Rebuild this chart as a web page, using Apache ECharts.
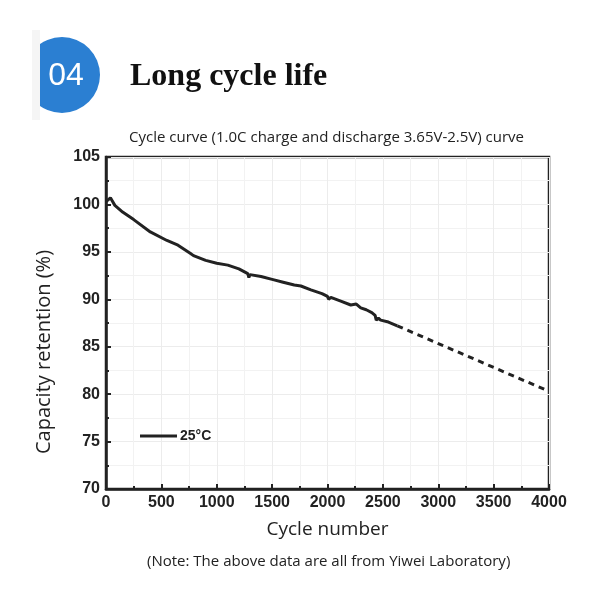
<!DOCTYPE html>
<html>
<head>
<meta charset="utf-8">
<script src="https://cdn.jsdelivr.net/npm/echarts@6/dist/echarts.min.js"></script>
<style>
  html, body { margin: 0; padding: 0; background: #fff; }
  #main { width: 600px; height: 600px; }
</style>
</head>
<body>
<div id="main"></div>
<script>
var cycles = [0, 40, 80, 150, 250, 400, 550, 650, 760, 790, 800, 900, 1000, 1100, 1200, 1280, 1290, 1300, 1400, 1500, 1600, 1700, 1760, 1850, 1950, 2000, 2010, 2030, 2120, 2210, 2260, 2300, 2350, 2400, 2430, 2440, 2460, 2480, 2550, 2630];
var retention = [100.3, 100.7, 99.9, 99.2, 98.4, 97.1, 96.2, 95.7, 94.85, 94.6, 94.7, 94.1, 93.8, 93.6, 93.2, 92.7, 92.3, 92.6, 92.4, 92.1, 91.8, 91.5, 91.4, 91.0, 90.6, 90.3, 90.0, 90.2, 89.8, 89.4, 89.5, 89.1, 88.9, 88.6, 88.3, 87.8, 88.0, 87.8, 87.6, 87.2];
// projected (dashed) part
var projCycles = [2630, 3980];
var projRetention = [87.2, 80.4];

var xTicks = { min: 0, max: 4000, interval: 500 };
var yTicks = { min: 70, max: 105, interval: 5 };

var chartDom = document.getElementById('main');
var myChart = echarts.init(chartDom);
var option;

var axisFont = { color: '#222', fontSize: 16, fontWeight: 'bold', fontFamily: 'Liberation Sans' };
var nameFont = { color: '#222', fontSize: 19, fontFamily: 'Open Sans' };

option = {
  backgroundColor: '#fff',
  animation: false,
  title: [
    {
      text: 'Long cycle life',
      left: 130, top: 61, padding: 0,
      textStyle: { fontFamily: 'Liberation Serif', fontWeight: 'bold', fontSize: 32, color: '#111' }
    },
    {
      text: 'Cycle curve (1.0C charge and discharge 3.65V-2.5V) curve',
      left: 129, top: 130, padding: 0,
      textStyle: { fontFamily: 'Open Sans', fontWeight: 'normal', fontSize: 15, color: '#222' }
    },
    {
      text: '(Note: The above data are all from Yiwei Laboratory)',
      left: 147, top: 554, padding: 0,
      textStyle: { fontFamily: 'Open Sans', fontWeight: 'normal', fontSize: 15, color: '#222' }
    }
  ],
  graphic: [
    { type: 'rect', shape: { x: 32, y: 30, width: 8, height: 90 }, style: { fill: '#f5f5f5' } },
    {
      type: 'group',
      clipPath: { type: 'rect', shape: { x: 40, y: 30, width: 80, height: 100 } },
      children: [
        { type: 'circle', shape: { cx: 62, cy: 75, r: 38 }, style: { fill: '#2b7fd2' } }
      ]
    },
    {
      type: 'text', x: 66, y: 76,
      style: { text: '04', fill: '#fff', font: '32px "Liberation Sans"', align: 'center', verticalAlign: 'middle' }
    }
  ],
  legend: {
    left: 135, top: 424,
    itemWidth: 37, itemHeight: 3, itemGap: 2,
    icon: 'rect',
    textStyle: { fontFamily: 'Liberation Sans', fontWeight: 'bold', fontSize: 14, color: '#222', padding: [0, 0, 0, -2] },
    data: ['25°C']
  },
  grid: {
    left: 106, right: 51, top: 157, bottom: 111,
    show: true, borderColor: '#222', borderWidth: 2.5, backgroundColor: 'transparent'
  },
  xAxis: {
    type: 'value',
    min: xTicks.min, max: xTicks.max, interval: xTicks.interval,
    name: 'Cycle number', nameLocation: 'middle', nameGap: 31, nameTextStyle: nameFont,
    axisLine: { show: true, lineStyle: { color: '#222', width: 2.5 } },
    axisTick: { show: true, inside: true, length: 5, lineStyle: { color: '#222', width: 2 } },
    minorTick: { show: true, splitNumber: 2, length: 3, lineStyle: { color: '#222', width: 2 } },
    axisLabel: Object.assign({ margin: 6, showMaxLabel: true, formatter: v => String(v) }, axisFont),
    splitLine: { show: true, lineStyle: { color: '#ececec', width: 1 } },
    minorSplitLine: { show: true, lineStyle: { color: '#f2f2f2', width: 1 } }
  },
  yAxis: {
    type: 'value',
    min: yTicks.min, max: yTicks.max, interval: yTicks.interval,
    name: 'Capacity retention (%)', nameLocation: 'middle', nameGap: 52,
    nameTextStyle: Object.assign({ padding: [0, 58, 0, 0] }, nameFont, { fontSize: 20 }),
    axisLine: { show: true, lineStyle: { color: '#222', width: 2.5 } },
    axisTick: { show: true, inside: true, length: 5, lineStyle: { color: '#222', width: 2 } },
    minorTick: { show: true, splitNumber: 2, length: 3, lineStyle: { color: '#222', width: 2 } },
    axisLabel: Object.assign({ margin: 6 }, axisFont),
    splitLine: { show: true, lineStyle: { color: '#ececec', width: 1 } },
    minorSplitLine: { show: true, lineStyle: { color: '#f2f2f2', width: 1 } }
  },
  series: [
    {
      name: '25°C',
      type: 'line',
      symbol: 'none',
      data: cycles.map((c, i) => [c, retention[i]]),
      lineStyle: { color: '#222', width: 3 },
      itemStyle: { color: '#222' }
    },
    {
      name: 'projection',
      type: 'line',
      symbol: 'none',
      data: projCycles.map((c, i) => [c, projRetention[i]]),
      lineStyle: { color: '#222', width: 3, type: [6, 5] }
    }
  ]
};

option && myChart.setOption(option);

window.onresize = function() {
  myChart.resize();
};
</script>
</body>
</html>
